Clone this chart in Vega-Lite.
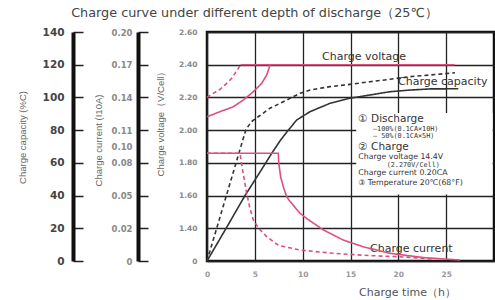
{
  "$schema": "https://vega.github.io/schema/vega-lite/v6.json",
  "width": 287,
  "height": 229,
  "autosize": {"type": "none"},
  "padding": {"left": 207, "top": 32, "right": 1, "bottom": 39},
  "background": "white",
  "title": {"text": "Charge curve under different depth of discharge（25℃）", "anchor": "middle", "dx": -96, "offset": 7, "font": "DejaVu Sans", "fontSize": 12.8, "fontWeight": "normal", "color": "#444"},
  "config": {"view": {"stroke": "#111", "strokeWidth": 2.5}, "font": "Liberation Sans"},
  "datasets": {
    "box": [{"t": 15.6, "t2": 29.85, "v1": 1.607, "v2": 2.105}],
    "volt": [
      {"series": "100%", "t": 0, "voltage": 2.082},
      {"series": "100%", "t": 1.36, "voltage": 2.113},
      {"series": "100%", "t": 2.75, "voltage": 2.143},
      {"series": "100%", "t": 3.79, "voltage": 2.184},
      {"series": "100%", "t": 4.84, "voltage": 2.235},
      {"series": "100%", "t": 5.72, "voltage": 2.286},
      {"series": "100%", "t": 6.24, "voltage": 2.337},
      {"series": "100%", "t": 6.48, "voltage": 2.378},
      {"series": "100%", "t": 6.58, "voltage": 2.4},
      {"series": "50%", "t": 0, "voltage": 2.2},
      {"series": "50%", "t": 0.66, "voltage": 2.225},
      {"series": "50%", "t": 1.36, "voltage": 2.25},
      {"series": "50%", "t": 2.06, "voltage": 2.286},
      {"series": "50%", "t": 2.58, "voltage": 2.317},
      {"series": "50%", "t": 2.93, "voltage": 2.347},
      {"series": "50%", "t": 3.27, "voltage": 2.378},
      {"series": "50%", "t": 3.52, "voltage": 2.4},
      {"series": "hold", "t": 3.52, "voltage": 2.4},
      {"series": "hold", "t": 25.9, "voltage": 2.4}
    ],
    "cap": [
      {"series": "100%", "t": 0, "capacity": 0},
      {"series": "100%", "t": 2, "capacity": 20},
      {"series": "100%", "t": 3.97, "capacity": 40},
      {"series": "100%", "t": 5.5, "capacity": 54},
      {"series": "100%", "t": 6.76, "capacity": 65.8},
      {"series": "100%", "t": 7.7, "capacity": 74},
      {"series": "100%", "t": 8.5, "capacity": 80},
      {"series": "100%", "t": 9.38, "capacity": 86.2},
      {"series": "100%", "t": 10.77, "capacity": 91.3},
      {"series": "100%", "t": 12.86, "capacity": 96.4},
      {"series": "100%", "t": 14.95, "capacity": 99.5},
      {"series": "100%", "t": 17.04, "capacity": 101.5},
      {"series": "100%", "t": 19.13, "capacity": 103.5},
      {"series": "100%", "t": 21.22, "capacity": 104.5},
      {"series": "100%", "t": 23.31, "capacity": 105.2},
      {"series": "100%", "t": 26.27, "capacity": 105.3},
      {"series": "50%", "t": 0, "capacity": 0},
      {"series": "50%", "t": 2, "capacity": 39.5},
      {"series": "50%", "t": 4.05, "capacity": 80},
      {"series": "50%", "t": 4.6, "capacity": 85},
      {"series": "50%", "t": 5.36, "capacity": 88.2},
      {"series": "50%", "t": 6.58, "capacity": 93.4},
      {"series": "50%", "t": 7.98, "capacity": 97.4},
      {"series": "50%", "t": 9.72, "capacity": 102.5},
      {"series": "50%", "t": 10.77, "capacity": 104.5},
      {"series": "50%", "t": 12.86, "capacity": 106.6},
      {"series": "50%", "t": 14.95, "capacity": 108},
      {"series": "50%", "t": 17.04, "capacity": 109.6},
      {"series": "50%", "t": 19.13, "capacity": 111.1},
      {"series": "50%", "t": 21.22, "capacity": 112.7},
      {"series": "50%", "t": 23.31, "capacity": 113.7},
      {"series": "50%", "t": 25.92, "capacity": 115.1}
    ],
    "curr": [
      {"series": "100%", "t": 0, "current": 0.0914},
      {"series": "100%", "t": 7.45, "current": 0.0914},
      {"series": "100%", "t": 7.5, "current": 0.08},
      {"series": "100%", "t": 7.7, "current": 0.067},
      {"series": "100%", "t": 8.0, "current": 0.0575},
      {"series": "100%", "t": 8.33, "current": 0.049},
      {"series": "100%", "t": 8.68, "current": 0.0446},
      {"series": "100%", "t": 9.72, "current": 0.0338},
      {"series": "100%", "t": 10.5, "current": 0.0285},
      {"series": "100%", "t": 12.16, "current": 0.019},
      {"series": "100%", "t": 14.25, "current": 0.0128},
      {"series": "100%", "t": 16.34, "current": 0.0087},
      {"series": "100%", "t": 19.13, "current": 0.0047},
      {"series": "100%", "t": 22.61, "current": 0.0021},
      {"series": "100%", "t": 26.45, "current": 0.0006},
      {"series": "50%", "t": 0, "current": 0.0914},
      {"series": "50%", "t": 3.45, "current": 0.0914},
      {"series": "50%", "t": 3.6, "current": 0.08},
      {"series": "50%", "t": 3.85, "current": 0.067},
      {"series": "50%", "t": 4.15, "current": 0.052},
      {"series": "50%", "t": 4.5, "current": 0.038},
      {"series": "50%", "t": 4.84, "current": 0.0276},
      {"series": "50%", "t": 5.4, "current": 0.02},
      {"series": "50%", "t": 6.24, "current": 0.0149},
      {"series": "50%", "t": 7.5, "current": 0.0095},
      {"series": "50%", "t": 9.72, "current": 0.0067},
      {"series": "50%", "t": 13.2, "current": 0.0047},
      {"series": "50%", "t": 17, "current": 0.0033},
      {"series": "50%", "t": 20.2, "current": 0.0026},
      {"series": "50%", "t": 23.5, "current": 0.0013}
    ],
    "notes": [
      {"role": "series", "t": 12.02, "v": 2.447, "label": "Charge voltage"},
      {"role": "series", "t": 19.97, "v": 2.296, "label": "Charge capacity"},
      {"role": "series", "t": 17.04, "v": 1.273, "label": "Charge current"},
      {"role": "heading", "t": 15.82, "v": 2.067, "label": "① Discharge"},
      {"role": "code", "t": 17.35, "v": 2.008, "label": "—100%(0.1CA×10H)"},
      {"role": "code", "t": 17.35, "v": 1.962, "label": "— 50%(0.1CA×5H)"},
      {"role": "heading", "t": 15.82, "v": 1.895, "label": "② Charge"},
      {"role": "body", "t": 15.82, "v": 1.836, "label": "Charge voltage 14.4V"},
      {"role": "code", "t": 18.78, "v": 1.789, "label": "(2.270V/Cell)"},
      {"role": "body", "t": 15.82, "v": 1.738, "label": "Charge current 0.20CA"},
      {"role": "body", "t": 15.82, "v": 1.679, "label": "③ Temperature 20℃(68°F)"}
    ]
  },
  "encoding": {
    "x": {"field": "t", "type": "quantitative", "scale": {"domain": [0, 30], "nice": false, "zero": false},
      "axis": {"values": [0, 5, 10, 15, 20, 25], "grid": true, "gridColor": "#222", "gridWidth": 1.3, "domain": false, "ticks": false, "labelPadding": 9, "labelFont": "DejaVu Sans", "labelFontSize": 7.5, "labelFontWeight": "bold", "labelColor": "#999", "labelFlush": false, "title": "Charge time（h）", "titleX": 200, "titleY": 31, "titleAlign": "center", "titleBaseline": "middle", "titleFont": "DejaVu Sans", "titleFontSize": 11, "titleFontWeight": "normal", "titleColor": "#555"}}
  },
  "layer": [
    {
      "data": {"name": "box"},
      "mark": {"type": "rect", "fill": "white"},
      "encoding": {
        "x2": {"field": "t2"},
        "y": {"field": "v1", "type": "quantitative", "scale": {"domain": [1.2, 2.6], "nice": false, "zero": false}, "axis": null},
        "y2": {"field": "v2"}
      }
    },
    {
      "data": {"name": "volt"},
      "mark": {"type": "line", "color": "#dd4f80", "strokeWidth": 1.6},
      "encoding": {
        "y": {"field": "voltage", "type": "quantitative", "scale": {"domain": [1.2, 2.6], "nice": false, "zero": false},
          "axis": {"orient": "left", "values": [1.2, 1.4, 1.6, 1.8, 2.0, 2.2, 2.4, 2.6], "labelExpr": "datum.value < 1.3 ? '0' : format(datum.value, '.2f')", "domain": false, "ticks": false, "labelPadding": 10, "labelFont": "DejaVu Sans", "labelFontWeight": "bold", "labelFontSize": 7.5, "labelColor": "#888", "labelOverlap": false, "grid": true, "gridColor": "#222", "gridWidth": 1.3, "title": "Charge voltage（V/Cell）", "titleX": -47, "titleY": 89, "titleAlign": "center", "titleBaseline": "middle", "titleFont": "Liberation Sans", "titleFontSize": 9.5, "titleFontWeight": "normal", "titleColor": "#666"}},
        "strokeDash": {"field": "series", "type": "nominal", "scale": {"domain": ["100%", "50%", "hold"], "range": [[1, 0], [4, 3], [1, 0]]}, "legend": null}
      }
    },
    {
      "data": {"name": "notes"},
      "transform": [{"filter": "datum.role == 'series'"}],
      "mark": {"type": "text", "align": "left", "baseline": "middle", "font": "DejaVu Sans", "fontSize": 11, "color": "#333"},
      "encoding": {
        "y": {"field": "v", "type": "quantitative", "scale": {"domain": [1.2, 2.6], "nice": false, "zero": false}, "axis": null},
        "text": {"field": "label"}
      }
    },
    {
      "data": {"name": "notes"},
      "transform": [{"filter": "datum.role == 'heading'"}],
      "mark": {"type": "text", "align": "left", "baseline": "middle", "font": "DejaVu Sans", "fontSize": 10.5, "color": "#333"},
      "encoding": {
        "y": {"field": "v", "type": "quantitative", "scale": {"domain": [1.2, 2.6], "nice": false, "zero": false}, "axis": null},
        "text": {"field": "label"}
      }
    },
    {
      "data": {"name": "notes"},
      "transform": [{"filter": "datum.role == 'body'"}],
      "mark": {"type": "text", "align": "left", "baseline": "middle", "font": "DejaVu Sans", "fontSize": 7.8, "color": "#333"},
      "encoding": {
        "y": {"field": "v", "type": "quantitative", "scale": {"domain": [1.2, 2.6], "nice": false, "zero": false}, "axis": null},
        "text": {"field": "label"}
      }
    },
    {
      "data": {"name": "notes"},
      "transform": [{"filter": "datum.role == 'code'"}],
      "mark": {"type": "text", "align": "left", "baseline": "middle", "font": "DejaVu Sans Mono", "fontSize": 6.8, "color": "#333"},
      "encoding": {
        "y": {"field": "v", "type": "quantitative", "scale": {"domain": [1.2, 2.6], "nice": false, "zero": false}, "axis": null},
        "text": {"field": "label"}
      }
    },
    {
      "data": {"name": "cap"},
      "mark": {"type": "line", "color": "#333", "strokeWidth": 1.6},
      "encoding": {
        "y": {"field": "capacity", "type": "quantitative", "scale": {"domain": [0, 140], "nice": false, "zero": false},
          "axis": {"orient": "left", "offset": 134, "values": [0, 20, 40, 60, 80, 100, 120, 140], "domainWidth": 4, "domainColor": "#111", "tickSize": -10, "tickWidth": 1.5, "tickColor": "#222", "labelPadding": 19, "labelFont": "DejaVu Sans", "labelFontWeight": "bold", "labelFontSize": 10.5, "labelColor": "#444", "labelOverlap": false, "grid": false, "title": "Charge capacity (%C)", "titleX": -51, "titleY": 105, "titleAlign": "center", "titleBaseline": "middle", "titleFont": "Liberation Sans", "titleFontSize": 9.5, "titleFontWeight": "normal", "titleColor": "#666"}},
        "strokeDash": {"field": "series", "type": "nominal", "scale": {"domain": ["100%", "50%", "hold"], "range": [[1, 0], [4, 3], [1, 0]]}, "legend": null}
      }
    },
    {
      "data": {"name": "curr"},
      "mark": {"type": "line", "color": "#dd4f80", "strokeWidth": 1.6},
      "encoding": {
        "y": {"field": "current", "type": "quantitative", "scale": {"domain": [0, 0.02, 0.05, 0.08, 0.1, 0.11, 0.14, 0.17, 0.2], "range": [229, 196.3, 163.6, 130.9, 114, 98.1, 65.4, 32.7, 0], "nice": false, "zero": false},
          "axis": {"orient": "left", "offset": 69, "values": [0, 0.02, 0.05, 0.08, 0.1, 0.11, 0.14, 0.17, 0.2], "labelExpr": "datum.value == 0 ? '0' : format(datum.value, '.2f')", "domainWidth": 4, "domainColor": "#111", "tickSize": -10, "tickWidth": 1.5, "tickColor": {"condition": {"test": "abs(datum.value - 0.1) < 0.001", "value": "transparent"}, "value": "#222"}, "labelPadding": 16, "labelFont": "DejaVu Sans", "labelFontWeight": "bold", "labelFontSize": 8.5, "labelColor": "#888", "labelOverlap": false, "grid": false, "title": "Charge current (I10A)", "titleX": -40, "titleY": 108, "titleAlign": "center", "titleBaseline": "middle", "titleFont": "Liberation Sans", "titleFontSize": 9.5, "titleFontWeight": "normal", "titleColor": "#666"}},
        "strokeDash": {"field": "series", "type": "nominal", "scale": {"domain": ["100%", "50%", "hold"], "range": [[1, 0], [4, 3], [1, 0]]}, "legend": null}
      }
    }
  ],
  "resolve": {"scale": {"y": "independent"}}
}
